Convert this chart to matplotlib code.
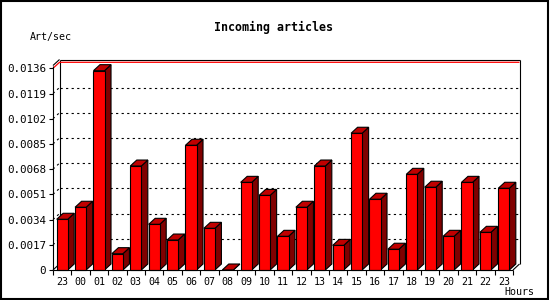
import matplotlib
matplotlib.use("Agg")
import matplotlib.pyplot as plt
from matplotlib.patches import Polygon, Rectangle
from matplotlib.lines import Line2D
import numpy as np

# ---- data ----
hours = ["23", "00", "01", "02", "03", "04", "05", "06", "07", "08", "09", "10",
         "11", "12", "13", "14", "15", "16", "17", "18", "19", "20", "21", "22", "23"]
values = [0.00342, 0.00423, 0.01344, 0.00110, 0.00701, 0.00308, 0.00202, 0.00841,
          0.00281, 0.0, 0.00591, 0.00503, 0.00227, 0.00423, 0.00701, 0.00166,
          0.00922, 0.00477, 0.00140, 0.00645, 0.00558, 0.00227, 0.00591, 0.00254, 0.00551]
yticks = [0, 0.0017, 0.0034, 0.0051, 0.0068, 0.0085, 0.0102, 0.0119, 0.0136]
ytick_labels = ["0", "0.0017", "0.0034", "0.0051", "0.0068", "0.0085", "0.0102", "0.0119", "0.0136"]
ymax = 0.0136
title = "Incoming articles"
ylabel = "Art/sec"
xlabel = "Hours"

# ---- styles ----
FRONT = "#ff0000"
TOP = "#c00000"
SIDE = "#800000"
FLOOR = "#8c8c8c"
W, H = 550, 300
DPI = 100
depth_px_x, depth_px_y = 6.5, 6.0
bar_frac = 0.6
LW = 0.8

fig = plt.figure(figsize=(W / DPI, H / DPI), dpi=DPI)
ax_left, ax_bottom, ax_w, ax_h = 53 / W, 30 / H, 460 / W, 204.5 / H
ax = fig.add_axes([ax_left, ax_bottom, ax_w, ax_h])
n = len(values)
x0, x1 = -0.5, n - 0.5
px_per_val = 201.7 / ymax
ytop = ymax + 2.8 / px_per_val
ax.set_xlim(x0, x1)
ax.set_ylim(0, ytop)
for s in ax.spines.values():
    s.set_visible(False)
ax.patch.set_visible(False)

DX = depth_px_x / (ax_w * W / n)
DY = depth_px_y / px_per_val

def line(xs, ys, **kw):
    kw.setdefault("color", "black")
    kw.setdefault("lw", LW)
    ax.add_line(Line2D(xs, ys, clip_on=False, solid_capstyle="butt", **kw))

# back frame
line([x0 + DX, x0 + DX], [DY, ytop + DY], zorder=1)
line([x1 + DX, x1 + DX], [DY, ytop + DY], zorder=1)
line([x0 + DX, x1 + DX], [ytop + DY, ytop + DY], zorder=1)
line([x0, x0 + DX], [ytop, ytop + DY], zorder=1)
line([x0, x0 + DX], [0, DY], zorder=1)
# gridlines
for v in yticks[1:-1]:
    line([x0 + DX, x1 + DX], [v + DY, v + DY], ls=(0, (2, 3)), zorder=1)
    line([x0, x0 + DX], [v, v + DY], ls=(0, (2, 3)), zorder=1)
# max red line
line([x0, x0 + DX, x1 + DX], [ymax, ymax + DY, ymax + DY], color="red", lw=0.9, zorder=1.5)

# bars
for i, v in enumerate(values):
    l = i - bar_frac / 2
    r = i + bar_frac / 2
    floor = Polygon([[l, 0], [r, 0], [r + DX, DY], [l + DX, DY]], closed=True,
                    facecolor=FLOOR, edgecolor="none", zorder=2, clip_on=False)
    ax.add_patch(floor)
    side = Polygon([[r, 0], [r + DX, DY], [r + DX, v + DY], [r, v]], closed=True,
                   facecolor=SIDE, edgecolor="black", lw=LW, zorder=3, clip_on=False)
    topf = Polygon([[l, v], [r, v], [r + DX, v + DY], [l + DX, v + DY]], closed=True,
                   facecolor=TOP, edgecolor="black", lw=LW, zorder=3, clip_on=False)
    ax.add_patch(side)
    ax.add_patch(topf)
    if v > 0:
        ax.add_patch(Rectangle((l, 0), bar_frac, v, facecolor=FRONT, edgecolor="black",
                               lw=LW, zorder=4, clip_on=False))

# front axes
line([x0, x0], [0, ytop], zorder=5)
line([x0, x1], [0, 0], zorder=5)
line([x1, x1 + DX], [0, DY], zorder=5)

# ticks
mono = "DejaVu Sans Mono"
ax.set_yticks(yticks)
ax.set_yticklabels(ytick_labels, fontsize=7.8, family=mono)
ax.tick_params(axis="y", length=3, width=LW, pad=2, direction="out")
ax.set_xticks(range(n))
ax.set_xticklabels(hours, fontsize=7.2, family=mono)
ax.tick_params(axis="x", which="major", length=0, pad=5)
ax.set_xticks(np.arange(n + 1) - 0.5, minor=True)
ax.tick_params(axis="x", which="minor", length=3.5, width=LW, direction="out")

fig.text(273.5 / W, 1 - 27 / H, title, ha="center", va="center", fontsize=8.4,
         family=mono, fontweight="bold")
fig.text(30 / W, 1 - 37 / H, ylabel, ha="left", va="center", fontsize=7.2, family=mono)
fig.text(534 / W, 1 - 292 / H, xlabel, ha="right", va="center", fontsize=7.2, family=mono)

# outer border
fig.add_artist(Rectangle((0.5 / W, 1.5 / H), 547.5 / W, 297.5 / H, transform=fig.transFigure,
                         fill=False, edgecolor="black", lw=1.5))

fig.savefig("out.png", dpi=DPI)
